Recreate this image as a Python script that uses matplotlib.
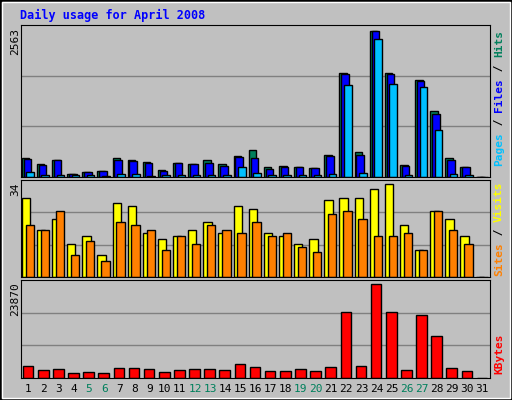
import numpy as np
import matplotlib
matplotlib.use("Agg")
import matplotlib.pyplot as plt
from matplotlib.patches import Rectangle

days = list(range(1, 32))
hits = [336, 232, 302, 58, 93, 110, 336, 302, 267, 128, 249, 232, 302, 232, 371,
        476, 180, 197, 180, 162, 389, 1833, 441, 2563, 1833, 215, 1711, 1154, 336, 180, 0]
files = [313, 215, 302, 58, 93, 110, 302, 284, 249, 110, 249, 232, 249, 197, 354,
         336, 145, 180, 180, 162, 371, 1815, 389, 2563, 1815, 197, 1694, 1102, 302, 180, 0]
pages = [93, 41, 41, 35, 41, 17, 58, 58, 17, 41, 41, 41, 41, 41, 180,
         75, 41, 41, 41, 41, 58, 1624, 75, 2424, 1641, 41, 1589, 824, 58, 41, 0]
visits = [29, 17, 21, 12, 15, 8, 27, 26, 16, 14, 15, 17, 20, 16, 26,
          25, 16, 15, 12, 14, 28, 29, 29, 32, 34, 19, 10, 24, 21, 15, 0]
sites = [19, 17, 24, 8, 13, 6, 20, 19, 17, 10, 15, 12, 19, 17, 16,
         20, 15, 16, 11, 9, 23, 24, 21, 15, 15, 16, 10, 24, 17, 12, 0]
kbytes = [2975, 1955, 2210, 1190, 1445, 1190, 2465, 2465, 2210, 1445, 1955, 2210, 2210, 1955, 3485,
          2720, 1700, 1700, 2210, 1700, 2720, 16745, 2975, 23870, 16745, 1955, 15980, 10625, 2465, 1700, 0]
weekends = [5, 6, 12, 13, 19, 20, 26, 27]

BG = "#c0c0c0"
C_HITS, C_FILES, C_PAGES = "#00805c", "#0000ff", "#00c0ff"
C_VISITS, C_SITES, C_KB = "#ffff00", "#ff8000", "#ff0000"
MONO = "DejaVu Sans Mono"

W, H = 512, 400
fig = plt.figure(figsize=(W / 100, H / 100), dpi=100, facecolor=BG)

def px_axes(x0, y0, x1, y1):
    return fig.add_axes([x0 / W, 1 - y1 / H, (x1 - x0) / W, (y1 - y0) / H])

def style(ax, top):
    ax.set_facecolor(BG)
    ax.set_xlim(0.5, 31.5)
    ax.set_ylim(0, top / 0.96)
    for f in (1 / 3, 2 / 3):
        ax.axhline(top / 0.96 * f, color="#808080", lw=1, zorder=0)
    ax.set_yticks([])
    ax.set_xticks([])
    for s in ax.spines.values():
        s.set_color("black")

x = np.array(days, dtype=float)
bw = dict(edgecolor="black", linewidth=1, align="edge")

ax1 = px_axes(21, 25, 490, 177)
style(ax1, max(hits))
ax1.bar(x - 0.45, hits, 0.5, color=C_HITS, **bw)
ax1.bar(x - 0.33, files, 0.5, color=C_FILES, **bw)
ax1.bar(x - 0.15, pages, 0.5, color=C_PAGES, **bw)

ax2 = px_axes(21, 180, 490, 277)
style(ax2, max(visits))
ax2.bar(x - 0.45, visits, 0.55, color=C_VISITS, **bw)
ax2.bar(x - 0.2, sites, 0.55, color=C_SITES, **bw)

ax3 = px_axes(21, 280, 490, 378)
style(ax3, max(kbytes))
ax3.bar(x - 0.38, kbytes, 0.7, color=C_KB, **bw)

# day labels
for d in days:
    fig.text((21 + (d - 0.5) / 31 * 469) / W, 1 - 389 / H, str(d), ha="center", va="center",
             fontsize=8, family=MONO, color=C_HITS if d in weekends else "black")

# left max labels
for lab, ytop in [(str(max(hits)), 28), (str(max(visits)), 182), (str(max(kbytes)), 282)]:
    fig.text(15 / W, 1 - ytop / H, lab, rotation=90, ha="center", va="top",
             fontsize=8, family=MONO)

# right legends built from coloured pieces (bottom to top)
def right_label(parts, ybottom):
    y = ybottom
    for txt, col in parts:
        fig.text(499 / W, 1 - y / H, txt, rotation=90, ha="center", va="bottom",
                 fontsize=8, family=MONO, fontweight="bold", color=col)
        y -= 6.8 * len(txt)

right_label([("Pages", C_PAGES), (" / ", "black"), ("Files", C_FILES),
             (" / ", "black"), ("Hits", C_HITS)], 166)
right_label([("Sites", C_SITES), (" / ", "black"), ("Visits", C_VISITS)], 276)
right_label([("KBytes", C_KB)], 374)

fig.text(20 / W, 1 - 15 / H, "Daily usage for April 2008", ha="left", va="center",
         fontsize=8.5, family=MONO, fontweight="bold", color="#0000ff")

# 3D-ish frame
fig.patches.append(Rectangle((0, 0), 1, 1, transform=fig.transFigure, fill=False,
                             edgecolor="black", lw=2))
fig.patches.append(Rectangle((2 / W, 2 / H), 1 - 4 / W, 1 - 4 / H, transform=fig.transFigure,
                             fill=False, edgecolor="white", lw=1))

fig.savefig("out.png", dpi=100, facecolor=BG)
